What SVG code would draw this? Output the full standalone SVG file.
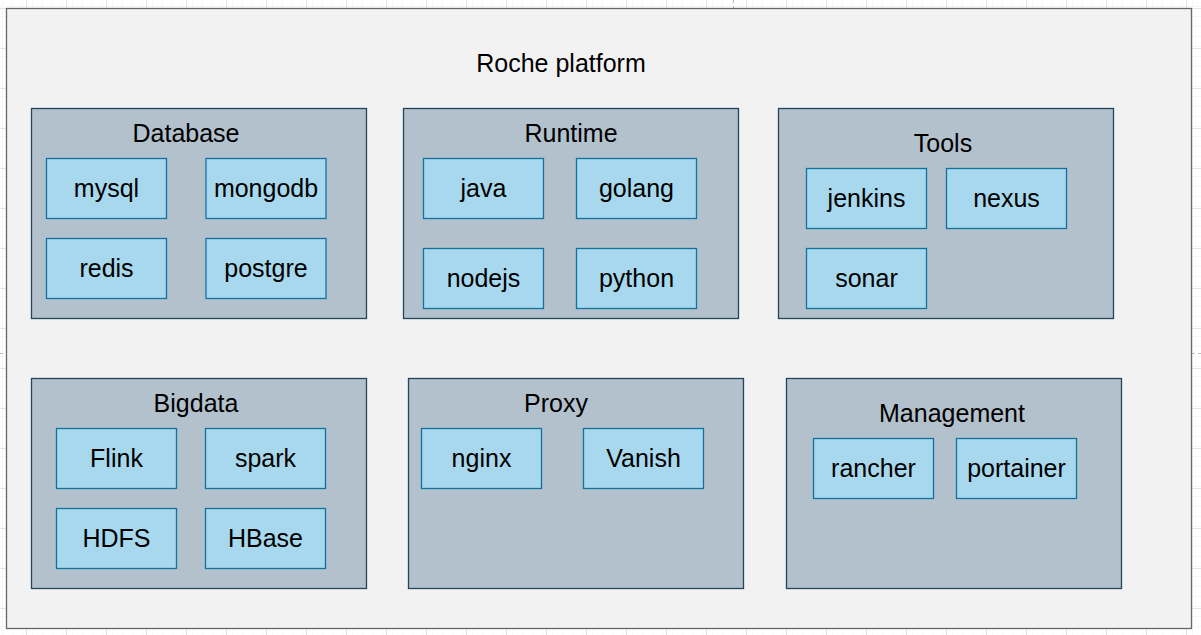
<svg xmlns="http://www.w3.org/2000/svg" width="1201" height="635" viewBox="0 0 1201 635">
<style>
text{font-family:"Liberation Sans",Arial,Helvetica,sans-serif;font-size:25px;fill:#000;text-anchor:middle}
.grp{fill:#b3c1cc;stroke:#23445d;stroke-width:1.3}
.node{fill:#a8d8ed;stroke:#10739e;stroke-width:1.3}
</style>
<defs>
<pattern id="minor" width="10" height="10" patternUnits="userSpaceOnUse" x="6" y="8">
<path d="M0 0H10M0 0V10" fill="none" stroke="#f0f0f0" stroke-width="1"/>
</pattern>
<pattern id="major" width="40" height="40" patternUnits="userSpaceOnUse" x="26" y="8">
<rect width="40" height="40" fill="url(#minor)"/>
<path d="M0 0.5H40M0.5 0V40" fill="none" stroke="#e2e2e2" stroke-width="1"/>
</pattern>
</defs>
<rect width="1201" height="635" fill="#fff"/>
<rect width="1201" height="635" fill="url(#major)"/>
<path d="M733.5 0V8M1192 353.5H1201M0 353.5H6" stroke="#bbb" stroke-dasharray="3 3" fill="none"/>
<g id="platform">
<rect x="6.5" y="8.5" width="1185" height="620" fill="#f2f2f2" stroke="#666" stroke-width="1.3"/>
<text x="561" y="72">Roche platform</text>
</g>
<g id="database">
<rect class="grp" x="31.5" y="108.5" width="335" height="210"/>
<text x="186" y="142">Database</text>
<g id="mysql"><rect class="node" x="46.5" y="158.5" width="120" height="60"/><text x="106.5" y="197">mysql</text></g>
<g id="mongodb"><rect class="node" x="206" y="158.5" width="120" height="60"/><text x="266" y="197">mongodb</text></g>
<g id="redis"><rect class="node" x="46.5" y="238.5" width="120" height="60"/><text x="106.5" y="277">redis</text></g>
<g id="postgre"><rect class="node" x="206" y="238.5" width="120" height="60"/><text x="266" y="277">postgre</text></g>
</g>
<g id="runtime">
<rect class="grp" x="403.5" y="108.5" width="335" height="210"/>
<text x="571" y="142">Runtime</text>
<g id="java"><rect class="node" x="423.5" y="158.5" width="120" height="60"/><text x="483.5" y="197">java</text></g>
<g id="golang"><rect class="node" x="576.5" y="158.5" width="120" height="60"/><text x="636.5" y="197">golang</text></g>
<g id="nodejs"><rect class="node" x="423.5" y="248.5" width="120" height="60"/><text x="483.5" y="287">nodejs</text></g>
<g id="python"><rect class="node" x="576.5" y="248.5" width="120" height="60"/><text x="636.5" y="287">python</text></g>
</g>
<g id="tools">
<rect class="grp" x="778.5" y="108.5" width="335" height="210"/>
<text x="943" y="152">Tools</text>
<g id="jenkins"><rect class="node" x="806.5" y="168.5" width="120" height="60"/><text x="866.5" y="207">jenkins</text></g>
<g id="nexus"><rect class="node" x="946.5" y="168.5" width="120" height="60"/><text x="1006.5" y="207">nexus</text></g>
<g id="sonar"><rect class="node" x="806.5" y="248.5" width="120" height="60"/><text x="866.5" y="287">sonar</text></g>
</g>
<g id="bigdata">
<rect class="grp" x="31.5" y="378.5" width="335" height="210"/>
<text x="196" y="412">Bigdata</text>
<g id="flink"><rect class="node" x="56.5" y="428.5" width="120" height="60"/><text x="116.5" y="467">Flink</text></g>
<g id="spark"><rect class="node" x="205.5" y="428.5" width="120" height="60"/><text x="265.5" y="467">spark</text></g>
<g id="hdfs"><rect class="node" x="56.5" y="508.5" width="120" height="60"/><text x="116.5" y="547">HDFS</text></g>
<g id="hbase"><rect class="node" x="205.5" y="508.5" width="120" height="60"/><text x="265.5" y="547">HBase</text></g>
</g>
<g id="proxy">
<rect class="grp" x="408.5" y="378.5" width="335" height="210"/>
<text x="556" y="412">Proxy</text>
<g id="nginx"><rect class="node" x="421.5" y="428.5" width="120" height="60"/><text x="481.5" y="467">nginx</text></g>
<g id="vanish"><rect class="node" x="583.5" y="428.5" width="120" height="60"/><text x="643.5" y="467">Vanish</text></g>
</g>
<g id="management">
<rect class="grp" x="786.5" y="378.5" width="335" height="210"/>
<text x="952" y="422">Management</text>
<g id="rancher"><rect class="node" x="813.5" y="438.5" width="120" height="60"/><text x="873.5" y="477">rancher</text></g>
<g id="portainer"><rect class="node" x="956.5" y="438.5" width="120" height="60"/><text x="1016.5" y="477">portainer</text></g>
</g>
<g id="connectors"></g>
</svg>
